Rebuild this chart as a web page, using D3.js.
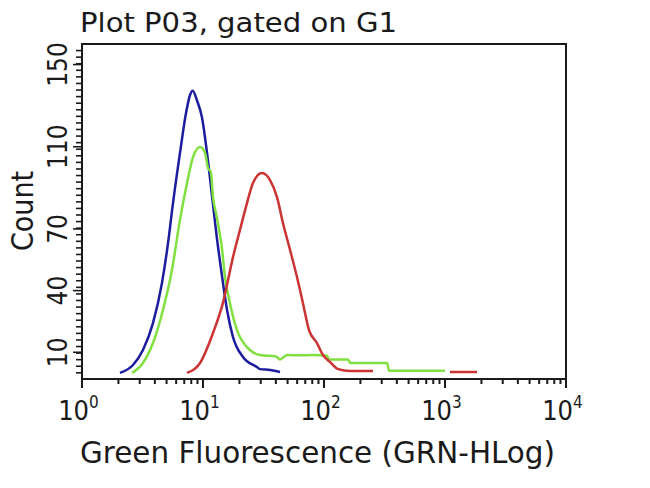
<!DOCTYPE html>
<html><head><meta charset="utf-8">
<script src="https://cdn.jsdelivr.net/npm/d3@7"></script>
<style>body{margin:0;background:#fff}svg{display:block}</style>
</head><body><svg id="c" width="650" height="488"></svg>
<script>
const title = "Plot P03, gated on G1";
const xLabel = "Green Fluorescence (GRN-HLog)";
const yLabel = "Count";
const xTickExps = [0, 1, 2, 3, 4];
const yTickLabels = [10, 40, 70, 110, 150];

// Blue histogram
const blueX = [2.06, 2.64, 3.19, 3.86, 4.58, 5.14, 5.65, 6.45, 7.24, 7.81, 8.22, 8.92, 9.81, 10.8, 11.9, 13.0, 14.4, 15.8, 17.7, 21.4, 27.9, 29.6, 35.8, 43.3];
const blueY = [0, 3.8, 11.1, 24.2, 43.7, 63.1, 82.6, 106.9, 126.4, 135.2, 137.3, 132.5, 124.2, 106.9, 85.5, 66.0, 46.6, 30.6, 17.4, 7.7, 2.8, 1.8, 1.4, 0.4];

// Green histogram
const greenX = [2.59, 3.19, 3.86, 4.67, 5.54, 6.45, 7.38, 8.27, 9.45, 10.4, 11.0, 11.6, 12.1, 13.0, 14.4, 15.2, 16.7, 19.1, 23.1, 29.6, 40.0, 43.3, 49.5, 63.4, 80.0, 106, 110, 158, 165, 332, 345, 1000];
const greenY = [0, 4.8, 14.5, 30.6, 50.0, 74.4, 92.4, 105.0, 109.9, 107.0, 99.6, 97.7, 85.5, 75.8, 59.7, 46.6, 33.9, 20.8, 12.5, 8.7, 8.0, 6.5, 8.7, 8.5, 8.7, 8.3, 6.5, 6.5, 4.8, 4.8, 1.0, 1.0];

// Red histogram (main peak and far tail)
const redX = [7.38, 9.45, 12.1, 14.6, 17.7, 20.2, 23.1, 25.9, 30.7, 35.8, 40.9, 45.8, 52.4, 59.8, 67.0, 75.2, 87.5, 98.1, 112, 131, 164, 254];
const redY = [0, 4.8, 19.4, 33.9, 56.3, 69.5, 82.6, 92.4, 97.2, 93.8, 85.5, 72.9, 59.8, 46.6, 33.9, 20.8, 14.5, 8.7, 5.3, 1.8, 0.9, 0.9];
const redTailX = [1099, 1837];
const redTailY = [0.4, 0.4];

const svg = d3.select("#c");
const font = "'DejaVu Sans Condensed','DejaVu Sans',sans-serif";
const ink = "#1a1a1a";
const x = d3.scaleLog().domain([1, 1e4]).range([82, 566]);
const y = d3.scaleLinear().domain([-3, 160]).range([379, 44]);

const line = d3.line().x(d => x(d[0])).y(d => y(d[1])).curve(d3.curveMonotoneX);
const series = [
  {xs: blueX, ys: blueY, color: "#1c1c9e"},
  {xs: greenX, ys: greenY, color: "#80e040"},
  {xs: redX, ys: redY, color: "#cc3333"},
  {xs: redTailX, ys: redTailY, color: "#cc3333"}
];
series.forEach(s => {
  svg.append("path")
    .attr("d", line(s.xs.map((v, i) => [v, s.ys[i]])))
    .attr("fill", "none").attr("stroke", s.color)
    .attr("stroke-width", 2.5).attr("stroke-linejoin", "round");
});

// frame
svg.append("rect").attr("x", 82).attr("y", 44).attr("width", 484).attr("height", 335)
  .attr("fill", "none").attr("stroke", ink).attr("stroke-width", 2);

// x ticks
const xMinor = [];
for (let k = 0; k < 4; k++) for (let m = 2; m <= 9; m++) xMinor.push(m * Math.pow(10, k));
svg.selectAll(".xm").data(xMinor).enter().append("line")
  .attr("x1", d => x(d)).attr("x2", d => x(d)).attr("y1", 379).attr("y2", 384)
  .attr("stroke", ink).attr("stroke-width", 2);
svg.selectAll(".xM").data(xTickExps).enter().append("line")
  .attr("x1", d => x(Math.pow(10, d))).attr("x2", d => x(Math.pow(10, d)))
  .attr("y1", 379).attr("y2", 388).attr("stroke", ink).attr("stroke-width", 2);
const xl = svg.selectAll(".xl").data(xTickExps).enter().append("text")
  .attr("x", d => x(Math.pow(10, d)) - 3.5).attr("y", 420)
  .attr("text-anchor", "middle").attr("font-family", font).attr("font-size", 27).attr("fill", ink);
xl.append("tspan").text("10");
xl.append("tspan").attr("dy", -12).attr("font-size", 17).text(d => d);

// y ticks
const yMinor = d3.range(0, 160, 3.2);
svg.selectAll(".ym").data(yMinor).enter().append("line")
  .attr("x1", 76).attr("x2", 82).attr("y1", d => y(d)).attr("y2", d => y(d))
  .attr("stroke", ink).attr("stroke-width", 1.6);
svg.selectAll(".yM").data(yTickLabels).enter().append("line")
  .attr("x1", 73).attr("x2", 82).attr("y1", d => y(d)).attr("y2", d => y(d))
  .attr("stroke", ink).attr("stroke-width", 1.6);
svg.selectAll(".yl").data(yTickLabels).enter().append("text")
  .attr("transform", d => `translate(67,${y(d)}) rotate(-90)`)
  .attr("text-anchor", "middle").attr("font-family", font).attr("font-size", 26).attr("fill", ink)
  .text(d => d);

// titles
svg.append("text").attr("x", 80).attr("y", 32).attr("font-family", font).attr("font-size", 26)
  .attr("fill", ink).attr("textLength", 317).attr("lengthAdjust", "spacingAndGlyphs").text(title);
svg.append("text").attr("x", 80).attr("y", 463).attr("font-family", font).attr("font-size", 30)
  .attr("fill", ink).attr("textLength", 475).attr("lengthAdjust", "spacingAndGlyphs").text(xLabel);
svg.append("text").attr("transform", "translate(33,211) rotate(-90)").attr("text-anchor", "middle")
  .attr("font-family", font).attr("font-size", 30).attr("fill", ink).text(yLabel);
</script></body></html>
